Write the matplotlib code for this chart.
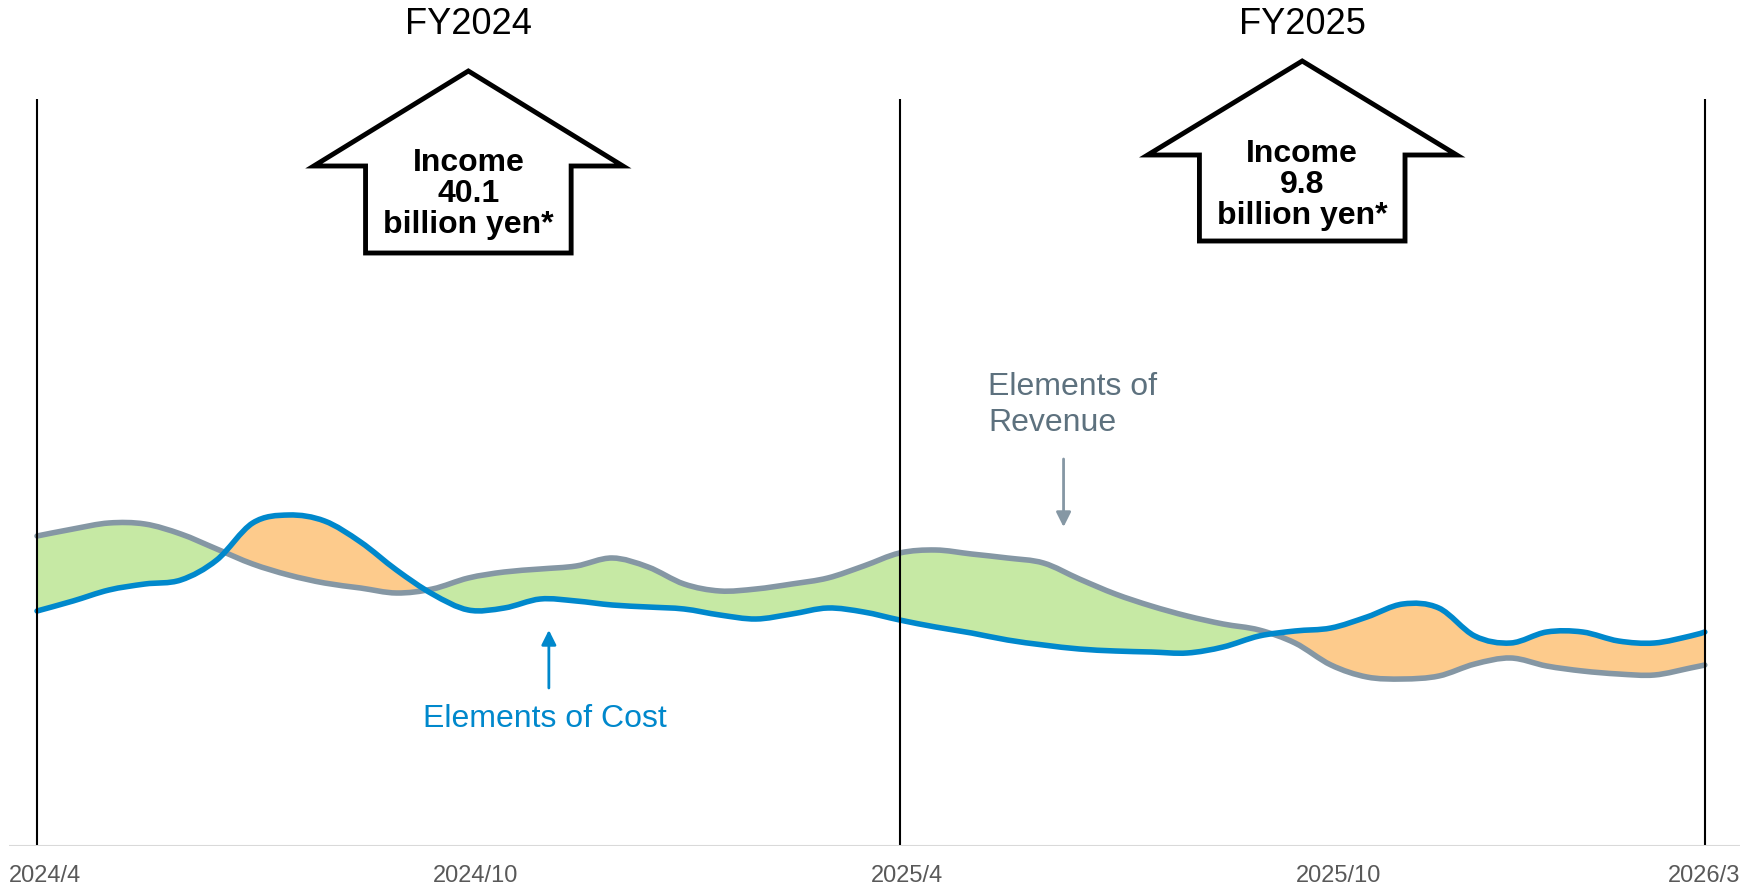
import numpy as np
import matplotlib.pyplot as plt
from matplotlib.patches import Polygon, PathPatch
from matplotlib.path import Path

plt.rcParams['font.family'] = ['Liberation Sans', 'DejaVu Sans']

# month index from 2024/4 (0) to 2026/3 (23.2), half-month steps
months = np.append(np.arange(0, 23.5, 0.5), 23.2)

revenue = [31.0, 31.7, 32.3, 32.2, 31.2, 29.7, 28.2, 27.1, 26.3, 25.8, 25.3, 25.7,
           26.8, 27.4, 27.7, 28.0, 28.8, 27.9, 26.2, 25.5, 25.7, 26.2, 26.8, 28.0,
           29.3, 29.6, 29.2, 28.8, 28.3, 26.7, 25.2, 24.0, 23.0, 22.2, 21.6, 20.3,
           18.1, 16.9, 16.7, 17.0, 18.2, 18.8, 18.0, 17.5, 17.2, 17.1, 17.8, 18.1]
cost = [23.5, 24.5, 25.6, 26.2, 26.6, 28.6, 32.3, 33.1, 32.5, 30.4, 27.6, 25.2,
        23.6, 23.8, 24.7, 24.5, 24.1, 23.9, 23.7, 23.1, 22.7, 23.2, 23.8, 23.4,
        22.6, 21.9, 21.3, 20.6, 20.1, 19.7, 19.5, 19.4, 19.3, 19.9, 21.0, 21.5,
        21.8, 22.9, 24.2, 23.8, 21.0, 20.3, 21.4, 21.4, 20.5, 20.3, 21.0, 21.4]

period_lines = [0, 12, 23.2]
fy_labels = ['FY2024', 'FY2025']
income_texts = ['Income\n40.1\nbillion yen*', 'Income\n9.8\nbillion yen*']
# arrow geometry per FY: tip, wing, bottom
arrow_tip = [77.5, 78.5]
arrow_wing = [68.0, 69.1]
arrow_bottom = [59.3, 60.5]
text_y = [65.2, 66.1]

tick_pos = [-0.39, 6.1, 12.1, 18.1, 23.69]
tick_labels = ['2024/4', '2024/10', '2025/4', '2025/10', '2026/3']

rev_color = '#8597a4'
cost_color = '#0088cc'
YTOP = 74.7


def spline_path(x, y):
    # smooth line through the points (Catmull-Rom drawn as cubic Bezier)
    p = np.column_stack([x, y])
    q = np.vstack([p[0], p, p[-1]])
    verts = [tuple(p[0])]
    codes = [Path.MOVETO]
    for i in range(1, len(q) - 2):
        c1 = q[i] + (q[i + 1] - q[i - 1]) / 6
        c2 = q[i + 1] - (q[i + 2] - q[i]) / 6
        verts += [tuple(c1), tuple(c2), tuple(q[i + 1])]
        codes += [Path.CURVE4] * 3
    return verts, codes


def area_path(x, y, level):
    verts, codes = spline_path(x, y)
    verts = verts + [(x[-1], level), (x[0], level), verts[0]]
    codes = codes + [Path.LINETO, Path.LINETO, Path.CLOSEPOLY]
    return Path(verts, codes)


fig = plt.figure(figsize=(17.57, 8.86), dpi=100)
ax = fig.add_axes([9 / 1757, 40 / 886, 1731 / 1757, 747 / 886])
ax.set_xlim(-0.39, 23.69)
ax.set_ylim(0, YTOP)

# green where revenue is above cost, orange where cost is above revenue
pairs = [(revenue, cost, '#c6e9a4'), (cost, revenue, '#fdcb8c')]
for upper, lower, col in pairs:
    under = PathPatch(area_path(months, upper, 0), facecolor=col, lw=0)
    ax.add_patch(under)
    above = PathPatch(area_path(months, lower, YTOP * 2), transform=ax.transData)
    under.set_clip_path(above)

for vals, col in [(revenue, rev_color), (cost, cost_color)]:
    v, c = spline_path(months, vals)
    ax.add_patch(PathPatch(Path(v, c), fill=False, edgecolor=col, lw=4.0,
                           capstyle='round', joinstyle='round'))

for x in period_lines:
    ax.axvline(x, color='black', lw=1.5)
ax.axhline(0, color='#d9d9d9', lw=2.2)

for spine in ax.spines.values():
    spine.set_visible(False)
ax.set_yticks([])
ax.set_xticks(tick_pos)
ax.set_xticklabels(tick_labels, fontsize=17, color='#595959')
ax.tick_params(axis='x', length=0, pad=14)
lbls = ax.get_xticklabels()
lbls[0].set_ha('left')
lbls[-1].set_ha('right')

sw, hw = 1.43, 2.15
for i in range(2):
    cx = (period_lines[i] + period_lines[i + 1]) / 2
    pts = [(cx - sw, arrow_bottom[i]), (cx - sw, arrow_wing[i]), (cx - hw, arrow_wing[i]),
           (cx, arrow_tip[i]), (cx + hw, arrow_wing[i]), (cx + sw, arrow_wing[i]),
           (cx + sw, arrow_bottom[i])]
    ax.add_patch(Polygon(pts, closed=True, facecolor='white', edgecolor='black',
                         lw=3.5, joinstyle='miter', clip_on=False))
    ax.text(cx, text_y[i], income_texts[i], ha='center', va='center', fontsize=23,
            fontweight='bold', linespacing=1.06, clip_on=False)
    ax.text(cx, 82.1, fy_labels[i], ha='center', va='center', fontsize=26, clip_on=False)

ax.text(13.23, 44.1, 'Elements of\nRevenue', ha='left', va='center', fontsize=23,
        color='#5d717e', linespacing=1.3)
ax.annotate('', xy=(14.28, 31.9), xytext=(14.28, 38.7),
            arrowprops=dict(arrowstyle='-|>', color=rev_color, lw=2, mutation_scale=22,
                            shrinkA=0, shrinkB=0))

ax.text(7.07, 12.7, 'Elements of Cost', ha='center', va='center', fontsize=23,
        color=cost_color)
ax.annotate('', xy=(7.12, 21.6), xytext=(7.12, 15.8),
            arrowprops=dict(arrowstyle='-|>', color=cost_color, lw=2, mutation_scale=22,
                            shrinkA=0, shrinkB=0))

fig.savefig('out.png', dpi=100)
